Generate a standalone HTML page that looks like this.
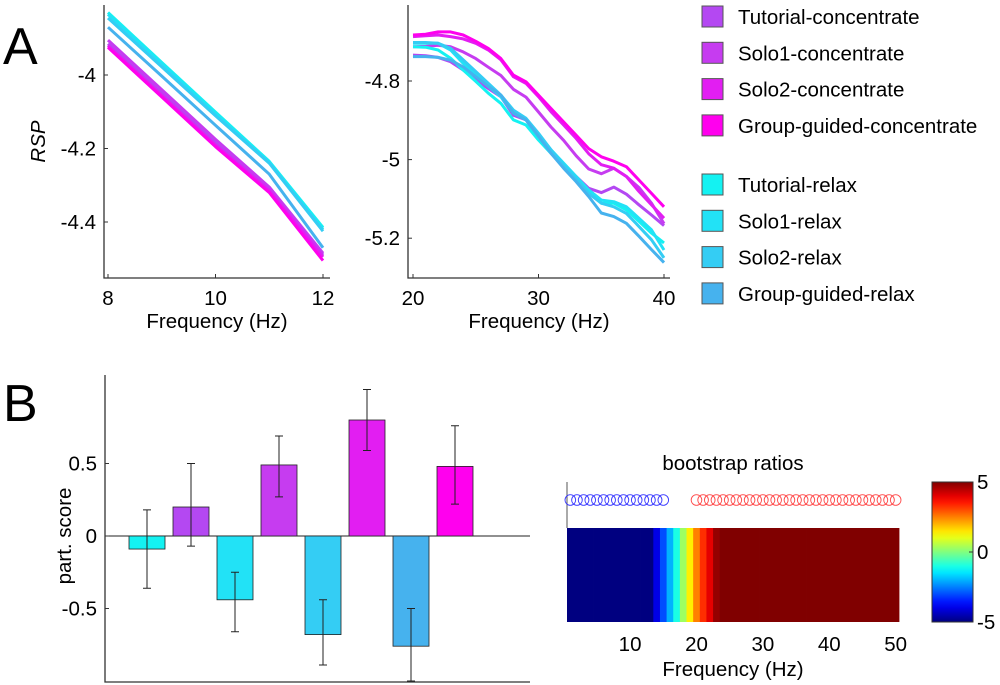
<!DOCTYPE html>
<html><head><meta charset="utf-8"><style>
body{margin:0;background:#fff;}
svg{display:block;font-family:"Liberation Sans",Arial,sans-serif;}
</style></head><body>
<svg id="fig" width="1000" height="685" viewBox="0 0 1000 685"></svg>
<script>
// ---- data ----
const lowFreqs=[8,9,10,11,12];
const lowT_c=[-3.915,-4.05,-4.185,-4.31,-4.49];
const lowS1_c=[-3.905,-4.04,-4.175,-4.305,-4.485];
const lowS2_c=[-3.92,-4.055,-4.19,-4.315,-4.495];
const lowG_c=[-3.925,-4.06,-4.195,-4.32,-4.505];
const lowT_r=[-3.83,-3.966,-4.101,-4.235,-4.415];
const lowS1_r=[-3.835,-3.97,-4.105,-4.238,-4.42];
const lowS2_r=[-3.845,-3.978,-4.111,-4.24,-4.425];
const lowG_r=[-3.87,-4.003,-4.137,-4.27,-4.47];
const highFreqs=[20,21,22,23,24,25,26,27,28,29,30,31,32,33,34,35,36,37,38,39,40];
const highG_c=[-4.683,-4.681,-4.675,-4.675,-4.683,-4.699,-4.717,-4.743,-4.785,-4.802,-4.836,-4.870,-4.904,-4.938,-4.972,-4.993,-5.004,-5.018,-5.052,-5.086,-5.120];
const highS2_c=[-4.687,-4.685,-4.683,-4.687,-4.693,-4.704,-4.721,-4.746,-4.789,-4.806,-4.840,-4.878,-4.912,-4.946,-4.985,-5.013,-5.022,-5.043,-5.081,-5.115,-5.149];
const highS1_c=[-4.713,-4.712,-4.709,-4.713,-4.726,-4.743,-4.765,-4.786,-4.821,-4.841,-4.879,-4.917,-4.951,-4.990,-5.024,-5.036,-5.022,-5.043,-5.071,-5.111,-5.163];
const highT_c=[-4.734,-4.736,-4.740,-4.751,-4.772,-4.797,-4.819,-4.840,-4.887,-4.899,-4.942,-4.976,-5.010,-5.043,-5.073,-5.084,-5.070,-5.088,-5.115,-5.141,-5.168];
const highT_r=[-4.713,-4.714,-4.721,-4.742,-4.772,-4.801,-4.831,-4.857,-4.899,-4.912,-4.950,-4.984,-5.018,-5.052,-5.081,-5.111,-5.111,-5.128,-5.157,-5.187,-5.212];
const highS1_r=[-4.704,-4.704,-4.704,-4.721,-4.755,-4.785,-4.814,-4.840,-4.882,-4.899,-4.937,-4.975,-5.009,-5.043,-5.077,-5.103,-5.107,-5.120,-5.149,-5.179,-5.230];
const highS2_r=[-4.702,-4.702,-4.704,-4.717,-4.746,-4.776,-4.806,-4.836,-4.874,-4.895,-4.933,-4.975,-5.014,-5.048,-5.086,-5.111,-5.120,-5.137,-5.170,-5.204,-5.250];
const highG_r=[-4.738,-4.738,-4.740,-4.747,-4.764,-4.789,-4.814,-4.836,-4.882,-4.899,-4.941,-4.984,-5.022,-5.056,-5.094,-5.136,-5.145,-5.162,-5.195,-5.229,-5.262];
const legendLabels=["Tutorial-concentrate","Solo1-concentrate","Solo2-concentrate","Group-guided-concentrate","Tutorial-relax","Solo1-relax","Solo2-relax","Group-guided-relax"];
const seriesColors=["#b448f2","#c63cf0","#e21ef2","#ff00ee","#14f2f2","#22e2f6","#34cdf4","#46b2ee"];
const barLabels=["Tutorial-relax","Tutorial-concentrate","Solo1-relax","Solo1-concentrate","Solo2-relax","Solo2-concentrate","Group-guided-relax","Group-guided-concentrate"];
const barValues=[-0.09,0.20,-0.44,0.49,-0.68,0.80,-0.76,0.48];
const errLow=[-0.36,-0.07,-0.66,0.27,-0.89,0.59,-1.0,0.22];
const errHigh=[0.18,0.50,-0.25,0.69,-0.44,1.01,-0.50,0.76];
const barColorIdx=[4,0,5,1,6,2,7,3];
const bsrValues=[-5,-5,-5,-5,-5,-5,-5,-5,-5,-5,-5,-5,-5,-4,-3,-2,-1,0.3,1.4,2.5,3.3,4.0,4.8,5,5,5,5,5,5,5,5,5,5,5,5,5,5,5,5,5,5,5,5,5,5,5,5,5,5,5];
const sigNeg=[1,2,3,4,5,6,7,8,9,10,11,12,13,14,15];
const sigPos=[20,21,22,23,24,25,26,27,28,29,30,31,32,33,34,35,36,37,38,39,40,41,42,43,44,45,46,47,48,49,50];
const ax1Ticks=[8,10,12], ay1Ticks=[-4,-4.2,-4.4];
const ax2Ticks=[20,30,40], ay2Ticks=[-4.8,-5,-5.2];
const barTicks=[0.5,0,-0.5];
const hmTicks=[10,20,30,40,50];
const cbTicks=[5,0,-5];

const svg=document.getElementById('fig');
const NS='http://www.w3.org/2000/svg';
function mk(tag,attrs,parent,text){const e=document.createElementNS(NS,tag);for(const k in attrs)e.setAttribute(k,attrs[k]);if(text!==undefined)e.textContent=text;(parent||svg).appendChild(e);return e;}
const AX='#333';
const FS=20.5;

let t;
t=mk('text',{x:3,y:64,'font-size':52},null,'A');


t=mk('text',{x:3,y:421,'font-size':52},null,'B');



function linePlot(name,L,R,T,B,fx,fy,xt,yt,freqs,series,ylab){
  const g=mk('g',{});
  
  
  const xs=f=>fx(f), ys=v=>fy(v);
  const axis=mk('path',{d:`M${L},${T}V${B}H${R}`,fill:'none',stroke:AX,'stroke-width':1.3},g);
  
  
  xt.forEach(v=>{mk('line',{x1:xs(v),x2:xs(v),y1:B,y2:B-4,stroke:AX},g);
    const e=mk('text',{x:xs(v),y:B+27,'font-size':FS,'text-anchor':'middle'},g,String(v));
    
    });
  yt.forEach(v=>{mk('line',{x1:L,x2:L+4,y1:ys(v),y2:ys(v),stroke:AX},g);
    const e=mk('text',{x:L-8,y:ys(v)+7,'font-size':FS,'text-anchor':'end'},g,String(v));
    
    });
  const xl=mk('text',{x:(L+R)/2,y:B+50,'font-size':FS,'text-anchor':'middle'},g,'Frequency (Hz)');
  
  
  if(ylab){const yl=mk('text',{x:0,y:0,'font-size':FS,'font-style':'italic','text-anchor':'middle',transform:`translate(45,${(T+B)/2}) rotate(-90)`},g,ylab);
    
    }
  series.forEach((s,i)=>{
    const d=s.map((v,j)=>(j?'L':'M')+xs(freqs[j]).toFixed(1)+','+ys(v).toFixed(1)).join('');
    const p=mk('path',{d,fill:'none',stroke:seriesColors[i],'stroke-width':3,'stroke-linejoin':'round'},g);
    
    
  });
}
linePlot('alpha-plot',104,330,5,278,f=>108+(f-8)*53.75,v=>75+(-4-v)*367.5,ax1Ticks,ay1Ticks,lowFreqs,
 [lowT_c,lowS1_c,lowS2_c,lowG_c,lowT_r,lowS1_r,lowS2_r,lowG_r],'RSP');
linePlot('beta-plot',408,670,5,278,f=>413+(f-20)*12.55,v=>81+(-4.8-v)*393,ax2Ticks,ay2Ticks,highFreqs,
 [highT_c,highS1_c,highS2_c,highG_c,highT_r,highS1_r,highS2_r,highG_r],null);

const lg=mk('g',{});


legendLabels.forEach((lab,i)=>{
  const cy=(i<4?17+i*36.3:185+(i-4)*36.3);
  const e=mk('g',{},lg);
  
  
  mk('rect',{x:702,y:cy-11,width:21,height:21,fill:seriesColors[i],stroke:'#555','stroke-width':1},e);
  mk('text',{x:738,y:cy+7,'font-size':FS},e,lab);
});

const bL=105,bR=530,bT=375,bB=682;
const by=v=>536-v*145;
const bx=i=>147+i*44;
const bg=mk('g',{});


const bax=mk('path',{d:`M${bL},${bT}V${bB}H${bR}`,fill:'none',stroke:AX,'stroke-width':1.3},bg);


mk('line',{x1:bL,x2:bR,y1:by(0),y2:by(0),stroke:'#222','stroke-width':1},bg);
barTicks.forEach(v=>{mk('line',{x1:bL,x2:bL+4,y1:by(v),y2:by(v),stroke:AX},bg);
  const e=mk('text',{x:bL-8,y:by(v)+7,'font-size':FS,'text-anchor':'end'},bg,String(v));
  
  });
const byl=mk('text',{'font-size':FS,'text-anchor':'middle',transform:`translate(71,${by(0)}) rotate(-90)`},bg,'part. score');


barValues.forEach((v,i)=>{
  const y0=by(0),y1=by(v);
  const r=mk('rect',{x:bx(i)-18,y:Math.min(y0,y1),width:36,height:Math.abs(y1-y0),fill:seriesColors[barColorIdx[i]],stroke:'#222','stroke-width':0.8},bg);
  
  
  const eb=mk('path',{d:`M${bx(i)},${by(errLow[i])}V${by(errHigh[i])}M${bx(i)-4},${by(errLow[i])}h8M${bx(i)-4},${by(errHigh[i])}h8`,stroke:'#222','stroke-width':1,fill:'none'},bg);
  
  
});

function jet(v){const x=(v+5)/10;const c=t=>Math.round(255*Math.max(0,Math.min(1,t)));
  return `rgb(${c(1.5-Math.abs(4*x-3))},${c(1.5-Math.abs(4*x-2))},${c(1.5-Math.abs(4*x-1))})`;}
const hL=567,hR=899,hT=528,hB=622,cw=(hR-hL)/50;
const hx=f=>hL+cw*(f-0.5);
const hg=mk('g',{});


const ht=mk('text',{x:733,y:470,'font-size':FS,'text-anchor':'middle'},hg,'bootstrap ratios');


mk('line',{x1:hL,x2:hL,y1:482,y2:hT,stroke:'#555'},hg);
bsrValues.forEach((v,i)=>{
  const r=mk('rect',{x:hL+i*cw,y:hT,width:cw+0.4,height:hB-hT,fill:jet(v)},hg);
  
  
});
sigNeg.forEach(f=>{const c=mk('circle',{cx:hx(f),cy:500,r:5.3,fill:'none',stroke:'#3a3aff','stroke-width':0.9},hg);
  
  });
sigPos.forEach(f=>{const c=mk('circle',{cx:hx(f),cy:500,r:5.3,fill:'none',stroke:'#ff4a4a','stroke-width':0.9},hg);
  
  });
hmTicks.forEach(f=>{const e=mk('text',{x:hx(f),y:651,'font-size':FS,'text-anchor':'middle'},hg,String(f));
  
  });
const hxl=mk('text',{x:733,y:676,'font-size':FS,'text-anchor':'middle'},hg,'Frequency (Hz)');


const cg=mk('g',{});


const defs=mk('defs',{});
const grad=mk('linearGradient',{id:'jetg',x1:0,y1:1,x2:0,y2:0},defs);
for(let k=0;k<=20;k++){mk('stop',{offset:k/20,'stop-color':jet(-5+k/2)},grad);}
const cL=932,cR=973,cT=482,cB=622;
mk('rect',{x:cL,y:cT,width:cR-cL,height:cB-cT,fill:'url(#jetg)',stroke:'#333','stroke-width':1},cg);
cbTicks.forEach(v=>{const y=cT+(5-v)/10*(cB-cT);
  mk('line',{x1:cR-4,x2:cR,y1:y,y2:y,stroke:'#333'},cg);
  const e=mk('text',{x:977,y:y+7,'font-size':FS},cg,String(v));
  
  });
</script>
</body></html>
